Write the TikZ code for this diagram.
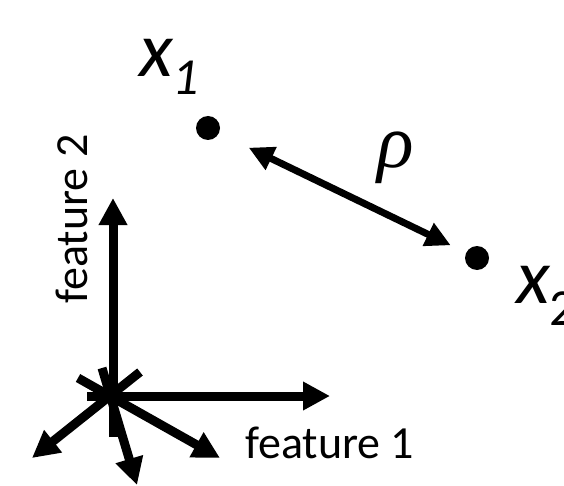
\documentclass[tikz,border=0pt]{standalone}
\usepackage{fontspec}
\setmainfont{Carlito}
\newfontfamily\rhofont{Liberation Serif}
\usetikzlibrary{arrows.meta}

\begin{document}
\begin{tikzpicture}[x=1pt, y=-1pt,
	axis/.style={line width=9pt, -{Triangle[length=27pt, width=27pt]}},
	vec/.style={line width=7pt, {Triangle[length=25pt, width=24pt]}-{Triangle[length=25pt, width=24pt]}},
	dot/.style={circle, fill=black, inner sep=0pt, minimum size=24pt},
	featlbl/.style={font=\fontsize{46}{50}\selectfont, inner sep=0pt},
	ptlbl/.style={font=\fontsize{78}{80}\selectfont\itshape, inner sep=0pt, anchor=base west}]
	\useasboundingbox (0,0) rectangle (564,486);
	% feature axes
	\coordinate (o) at (112,396);
	\coordinate (f1tip) at (330,396);
	\coordinate (f2tip) at (113,198);
	\draw[axis] (87,396) -- (f1tip);
	\draw[axis] (113,437) -- (f2tip);
	% further axes, seen end-on
	\coordinate (dltip) at (32,458);
	\coordinate (dtip) at (137,485);
	\coordinate (drtip) at (220,458);
	\draw[axis] (140,372) -- (dltip);
	\draw[axis] (102,368) -- (dtip);
	\draw[axis] (78,378) -- (drtip);
	\node[featlbl, anchor=base west] (f1lbl) at (245,458) {feature 1};
	\node[featlbl, rotate=90] (f2lbl) at (72,219) {feature 2};
	% the two points and their distance
	\node[dot] (x1dot) at (208,128) {};
	\node[dot] (x2dot) at (477,258) {};
	\draw[vec, shorten <=33pt, shorten >=17pt] (x1dot) -- (x2dot);
	\node[ptlbl] (x1lbl) at (139,77) {x\raisebox{-18pt}{\fontsize{52}{52}\selectfont 1}};
	\node[ptlbl] (x2lbl) at (516,303) {x\raisebox{-22pt}{\fontsize{52}{52}\selectfont\upshape 2}};
	\node[inner sep=0pt, font=\fontsize{76}{80}\selectfont\rhofont\itshape] (rholbl) at (396,158) {ρ};
\end{tikzpicture}
\end{document}
